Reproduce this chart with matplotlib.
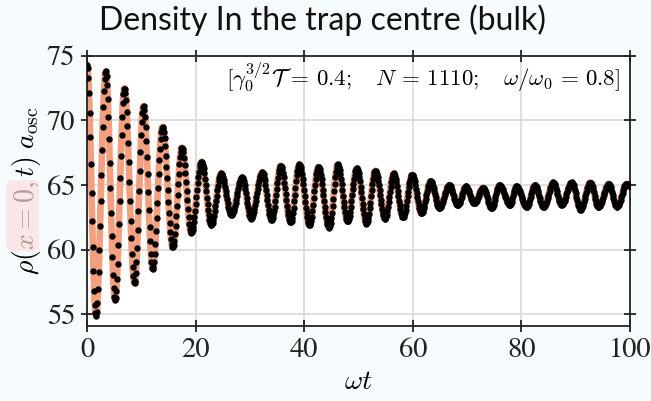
import numpy as np
import matplotlib
matplotlib.use('Agg')
import matplotlib.pyplot as plt
from matplotlib.patches import FancyBboxPatch

# maxima / minima of rho(x=0,t)
peak_t = [0.0, 3.45, 6.9, 10.4, 13.9, 17.5, 21.1, 24.7, 28.6, 32.3, 35.7, 39.1, 42.6, 46.2, 49.7,
          53.1, 56.5, 59.9, 63.3, 66.7, 69.8, 73.0, 76.0, 79.1, 82.5, 85.9, 89.3, 92.7, 96.1, 99.4]
peak_v = [74.3, 73.8, 72.5, 71.1, 69.5, 67.9, 66.8, 65.9, 65.6, 66.0, 66.5, 66.6, 66.4, 66.6, 66.3,
          66.1, 65.9, 65.8, 65.3, 65.0, 64.9, 64.8, 65.0, 64.9, 65.0, 65.2, 65.2, 65.2, 65.1, 65.1]
trough_t = [1.66, 5.17, 8.75, 12.1, 15.8, 19.2, 22.9, 26.6, 30.2, 34.0, 37.5, 41.0, 44.6, 48.0, 51.5,
            54.9, 58.2, 61.6, 64.9, 68.3, 71.3, 74.5, 77.9, 81.0, 84.1, 87.4, 90.9, 94.2, 97.6]
trough_v = [54.9, 56.1, 57.4, 58.5, 60.2, 61.3, 61.9, 62.7, 62.4, 62.3, 62.1, 61.9, 61.7, 62.2, 62.0,
            62.4, 62.5, 62.8, 63.2, 63.45, 63.6, 63.2, 63.45, 63.3, 63.3, 63.45, 63.1, 63.3, 63.3]
end_t = 100.0
end_v = 64.9

params_txt = r'$[\gamma_0^{3/2}\mathcal{T}\,=\,0.4;\ \ \ N\,=\,1110;\ \ \ \omega/\omega_0\,=\,0.8]$'

# put the extrema in time order
ext_t = []
ext_v = []
for i in range(len(peak_t)):
    ext_t.append(peak_t[i])
    ext_v.append(peak_v[i])
    if i < len(trough_t):
        ext_t.append(trough_t[i])
        ext_v.append(trough_v[i])
ext_t.append(end_t)
ext_v.append(end_v)
ext_t = np.array(ext_t)
ext_v = np.array(ext_v)


def smooth(t):
    # half-cosine swing between neighbouring extrema
    k = np.clip(np.searchsorted(ext_t, t, side='right') - 1, 0, len(ext_t) - 2)
    s = (t - ext_t[k]) / (ext_t[k + 1] - ext_t[k])
    return ext_v[k] + (ext_v[k + 1] - ext_v[k]) * (1 - np.cos(np.pi * s)) / 2


t_line = np.linspace(0, 100, 4000)
t_dots = np.arange(0, 100.01, 0.12)

plt.rcParams['mathtext.fontset'] = 'cm'
plt.rcParams['font.family'] = ['STIXGeneral', 'DejaVu Serif']

fig = plt.figure(figsize=(6.51, 4.01), dpi=100, facecolor='#f6fcfd')
ax = fig.add_axes([0.1336, 0.187, 0.834, 0.674])
ax.set_facecolor('white')

ax.plot(t_line, smooth(t_line), color='#f2a07f', lw=4.8, solid_capstyle='round', zorder=2)
ax.plot(t_dots, smooth(t_dots), 'o', color='black', ms=4.6, mew=0, zorder=3)

ax.set_xlim(0, 100)
ax.set_ylim(54.1, 75)
ax.set_xticks([0, 20, 40, 60, 80, 100])
ax.set_yticks([55, 60, 65, 70, 75])
ax.grid(True, color='#dcdcdc', lw=1.3, zorder=0)
ax.set_axisbelow(True)
for sp in ax.spines.values():
    sp.set_color('#222222')
    sp.set_linewidth(1.3)
ax.tick_params(direction='inout', length=9, width=1.3, color='#222222', top=True, right=True,
               labelsize=20.5, pad=4, labelcolor='#222222')

ax.set_xlabel(r'$\omega t$', fontsize=20, labelpad=5)
ax.set_ylabel(r'$\rho(x=0,t)\;a_{\rm osc}$', fontsize=20, labelpad=3)
ax.text(0.982, 0.92, params_txt, transform=ax.transAxes, ha='right', va='center', fontsize=16.5)

# pink highlight laid over "x = 0" in the y label
fig.patches.append(FancyBboxPatch((0.014, 0.377), 0.042, 0.17, boxstyle='round,pad=0.004,rounding_size=0.012',
                                  transform=fig.transFigure, facecolor='#fcdede', edgecolor='none',
                                  alpha=0.7, zorder=5))

fig.text(0.495, 0.95, 'Density In the trap centre (bulk)', ha='center', va='center',
         fontsize=23, family='Lato', color='#111111')

fig.savefig('out.png', dpi=100, facecolor=fig.get_facecolor())
